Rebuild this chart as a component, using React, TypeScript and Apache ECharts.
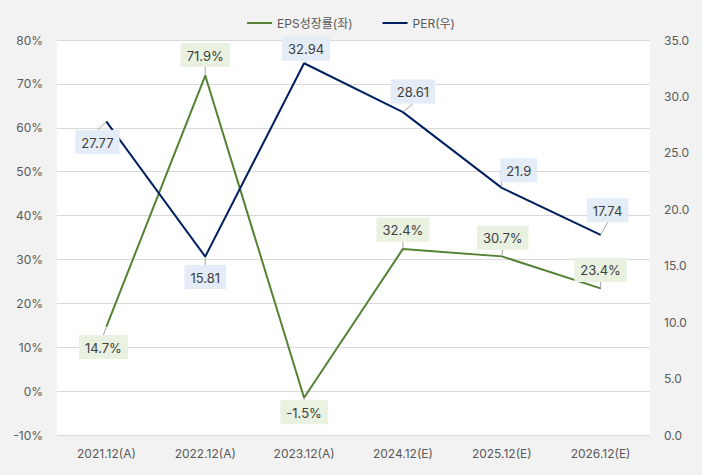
import React, { useEffect, useRef } from "react";
import * as echarts from "echarts";

const categories = ["2021.12(A)", "2022.12(A)", "2023.12(A)", "2024.12(E)", "2025.12(E)", "2026.12(E)"];
const epsGrowth = [14.7, 71.9, -1.5, 32.4, 30.7, 23.4];
const per = [27.77, 15.81, 32.94, 28.61, 21.9, 17.74];
const epsLabelPos = ["bottom", "top", "bottom", "top", "top", "top"];
const perLabelPos = ["bottom", "bottom", "top", "top", "top", "top"];
const epsLabelShift = [[-3, 2], [0, -2], [0, -4], [0, -1], [1, 0], [0, 0]];
const perLabelShift = [[-9, 2], [0, 2], [2, 4], [10, -2], [17, 1], [7, -6]];

export default function App() {
  const ref = useRef<HTMLDivElement>(null);
  useEffect(() => {
    const chart = echarts.init(ref.current!, null, { renderer: "svg" });
    const font = "Inter, 'Noto Sans CJK KR', sans-serif";
    const labelBase = {
      show: true,
      fontSize: 13,
      color: "#404040",
      fontFamily: font,
      padding: [6, 6, 5, 6],
      distance: 6,
    };
    chart.setOption({
      animation: false,
      backgroundColor: "#f2f2f2",
      textStyle: { fontFamily: font },
      legend: {
        top: 12,
        left: "center",
        itemWidth: 25,
        itemHeight: 2,
        itemGap: 30,
        icon: "rect",
        textStyle: { color: "#595959", fontSize: 12, fontFamily: font },
        data: ["EPS성장률(좌)", "PER(우)"],
      },
      grid: { left: 57, right: 52, top: 40, bottom: 40, show: true, backgroundColor: "#ffffff", borderWidth: 0 },
      xAxis: {
        type: "category",
        data: categories,
        axisLine: { show: false },
        axisTick: { show: false },
        axisLabel: { color: "#595959", fontSize: 12, margin: 12 },
      },
      yAxis: [
        {
          type: "value",
          min: -10,
          max: 80,
          interval: 10,
          axisLabel: { color: "#595959", fontSize: 12, formatter: "{value}%", margin: 14 },
          splitLine: { lineStyle: { color: "#d9d9d9" } },
          axisLine: { show: false },
          axisTick: { show: false },
        },
        {
          type: "value",
          min: 0,
          max: 35,
          interval: 5,
          axisLabel: { color: "#595959", fontSize: 12, formatter: (v: number) => v.toFixed(1), margin: 14 },
          splitLine: { show: false },
          axisLine: { show: false },
          axisTick: { show: false },
        },
      ],
      series: [
        {
          name: "EPS성장률(좌)",
          type: "line",
          yAxisIndex: 0,
          symbol: "circle",
          symbolSize: 1,
          showSymbol: true,
          lineStyle: { color: "#548235", width: 2 },
          itemStyle: { color: "#548235" },
          labelLine: { show: true, lineStyle: { color: "#a6a6a6", width: 1 } },
          labelLayout: (p: any) => {
            const s = epsLabelShift[p.dataIndex];
            return { dx: s[0], dy: s[1] };
          },
          data: epsGrowth.map((v, i) => ({
            value: v,
            label: { ...labelBase, position: epsLabelPos[i], backgroundColor: "#e9f1e0", formatter: (p: any) => p.value.toFixed(1) + "%" },
          })),
          z: 3,
        },
        {
          name: "PER(우)",
          type: "line",
          yAxisIndex: 1,
          symbol: "circle",
          symbolSize: 1,
          showSymbol: true,
          lineStyle: { color: "#002060", width: 2 },
          itemStyle: { color: "#002060" },
          labelLine: { show: true, lineStyle: { color: "#a6a6a6", width: 1 } },
          labelLayout: (p: any) => {
            const s = perLabelShift[p.dataIndex];
            return { dx: s[0], dy: s[1] };
          },
          data: per.map((v, i) => ({
            value: v,
            label: { ...labelBase, position: perLabelPos[i], backgroundColor: "#e4ecf7", formatter: (p: any) => String(p.value) },
          })),
          z: 4,
        },
      ],
    });
    return () => chart.dispose();
  }, []);
  return <div ref={ref} style={{ width: 702, height: 475, position: "absolute", left: 0, top: 0 }} />;
}
